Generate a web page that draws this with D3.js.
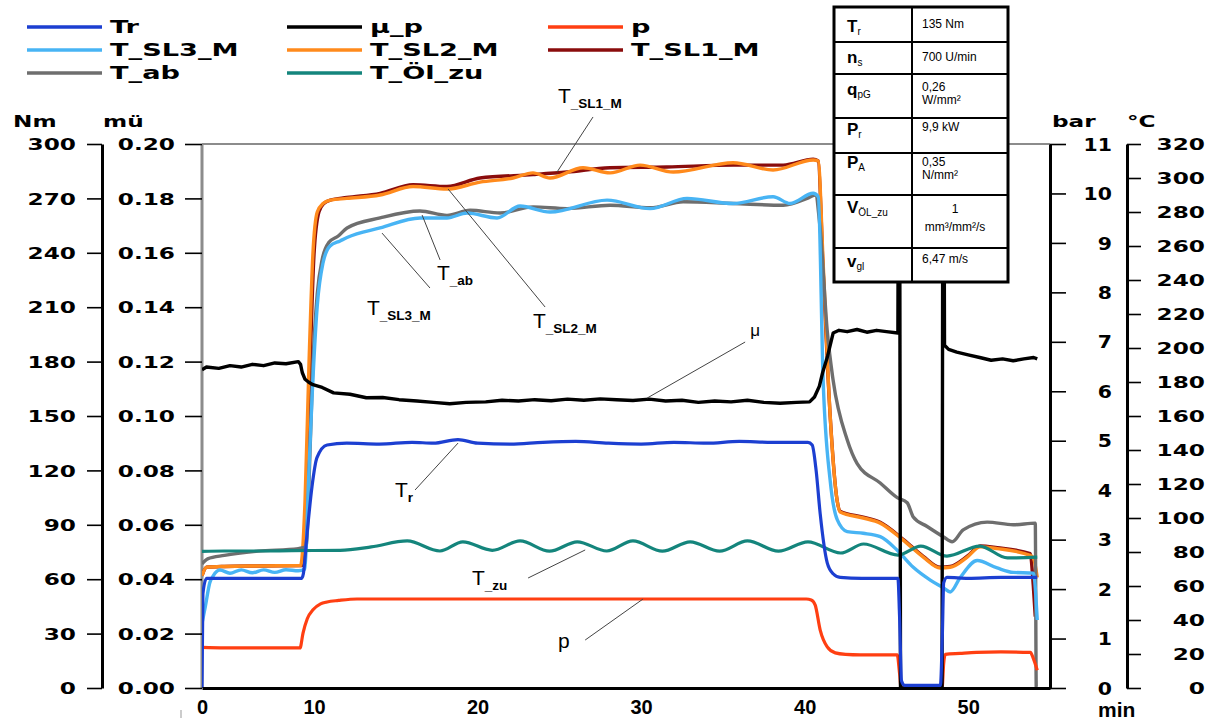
<!DOCTYPE html>
<html>
<head>
<meta charset="utf-8">
<script src="https://cdn.jsdelivr.net/npm/d3@7"></script>
<style>
  body { margin: 0; background: #fff; }
  svg { display: block; }
</style>
</head>
<body>
<svg id="chart" width="1218" height="725"></svg>
<script>
// ---- data (minutes, value) ----
var tickMinutes = [0, 10, 20, 30, 40, 50];
var nmTicks = d3.range(0, 301, 30);
var muTicks = d3.range(0, 0.2001, 0.02);
var barTicks = d3.range(0, 12, 1);
var degTicks = d3.range(0, 321, 20);

var trData = [[0,0],[0.08,52],[0.4,60.5],[3,60.5],[6,60.5],[8.9,60.5],[9.05,63],[9.38,85],[9.82,111],[10.18,127],
  [10.8,134],[12,135],[14,134.5],[16,135.5],[17.3,135],[18.8,137],[20,135],[22,134.5],[24,135.5],[26,136],
  [28,135],[30,134.5],[32,135.5],[34,135],[36,136],[38,135.5],[40.2,135.5],[40.46,134],[40.7,120],[40.95,96],
  [41.38,69],[41.74,63],[42.17,61],[43.5,60.5],[45.7,60.5],[45.8,40],[45.92,4],[46.1,1.5],[48.3,1.5],[48.42,30],
  [48.5,58],[48.7,61],[50,60.5],[52,61],[54.22,61]];

var muData = [[0,0.117],[0.4,0.118],[1.5,0.1175],[2.5,0.1185],[3.5,0.118],[4.5,0.119],[5.5,0.1185],[6.5,0.1195],
  [7.5,0.1192],[8.6,0.12],[8.8,0.119],[8.95,0.116],[9.2,0.1135],[9.5,0.1125],[9.9,0.1115],[10.5,0.1105],
  [11.2,0.1085],[12.2,0.108],[13.2,0.1067],[14.2,0.1068],[15.2,0.106],[16.3,0.1055],[17.3,0.105],[18.3,0.1045],
  [19.3,0.105],[20.5,0.1052],[21.5,0.1058],[22.5,0.1055],[23.5,0.106],[24.5,0.1056],[25.5,0.1062],[26.5,0.1058],
  [27.5,0.1063],[28.5,0.106],[29.5,0.1057],[30.5,0.1062],[31.5,0.1055],[32.5,0.1058],[33.5,0.105],[34.5,0.1055],
  [35.5,0.1052],[36.5,0.1058],[37.5,0.105],[38.5,0.1047],[39.5,0.105],[40.3,0.1052],[40.6,0.107],[40.9,0.111],
  [41.1,0.116],[41.4,0.122],[41.74,0.1305],[42.1,0.1315],[42.6,0.131],[43.2,0.1318],[43.8,0.1308],[44.4,0.1315],
  [45,0.131],[45.7,0.1305],[45.78,0.3],[45.86,0],[48.4,0],[48.47,0.3],[48.55,0.126],[48.8,0.1245],[49.3,0.1235],
  [50,0.1225],[50.7,0.1215],[51.4,0.1205],[52.1,0.121],[52.75,0.1203],[53.4,0.121],[54,0.1215],[54.22,0.121]];

var pData = [[0,0.82],[2,0.81],[5,0.81],[8.75,0.81],[9.02,1.11],[9.4,1.4],[9.91,1.58],[10.4,1.7],[10.8,1.74],
  [11.5,1.77],[12.63,1.8],[15,1.8],[20,1.8],[25,1.8],[30,1.8],[35,1.8],[40.1,1.8],[40.4,1.78],[40.64,1.68],
  [40.95,1.17],[41.38,0.83],[41.87,0.71],[42.5,0.68],[43.4,0.67],[45.66,0.67],[45.8,0.3],[45.9,0],[48.4,0],
  [48.5,0.5],[48.6,0.68],[49.5,0.7],[50.5,0.72],[52,0.73],[53.8,0.72],[53.98,0.6],[54.22,0.36]];

var oilData = [[0,80.4],[2,80.6],[5,80.6],[8,80.8],[11.6,81],[13.5,83],[15.7,86.5],[17.7,80.6],[19.1,86],
  [20.9,81],[22.6,86.5],[24.4,80.5],[26.1,86],[27.9,80.6],[29.5,86.5],[31.3,80.5],[33,86],[34.8,80.5],
  [36.5,86.5],[38.4,80.5],[40.2,86],[42.2,79.4],[43.6,84.7],[45.7,78.2],[47.1,83.5],[48.7,77.6],[50.7,83.5],
  [52.4,76.5],[54.22,77]];

var abData = [[0,73],[0.5,76],[2,78],[5,80.5],[8.6,82],[9.3,83],[9.6,130],[9.9,190],[10.2,232],[10.5,252],
  [10.9,262],[11.5,266],[12.02,270.6],[14.04,276.5],[16.48,280.6],[18.13,278],[19.54,281],[21.38,279.4],
  [23.39,283],[25.47,282],[28.1,284],[30.55,282.5],[32.57,286],[35.63,285],[38.69,284],[40.15,288],[40.64,290],
  [40.95,270],[41.38,210],[41.74,181],[42.6,146],[43.21,132],[44.62,120.6],[45.66,112],[46.27,109],[46.64,100.6],
  [47.49,95],[48.47,89],[49.02,86],[49.69,93],[51.16,97.6],[52.75,96],[54.1,97],[54.16,0],[54.22,0]];

var sl3Data = [[0,38],[0.3,48],[0.7,62],[1,66],[1.6,69.4],[2.5,67.5],[3.5,69.5],[4.5,67.8],[5.5,69.5],[6.5,68],
  [7.5,69.6],[8.6,69],[9.2,70],[9.5,120],[9.82,170],[10.2,225],[10.55,250],[10.98,260],[11.6,263],[12.02,265],
  [14.04,270.6],[16.48,276.5],[18.13,276.5],[19.36,279.4],[21.19,276.5],[22.6,283.5],[24.43,280],[27.92,287],
  [30.55,282],[32.81,288],[35.63,285],[38.07,289],[39.11,285],[40.52,291],[40.83,289],[41.13,181],[41.56,122],
  [41.99,99],[42.6,92],[43.58,91],[44.62,89],[45.66,81],[46.64,71],[47.68,63.5],[48.47,59],[48.9,56.5],
  [49.51,65],[50.55,75],[51.77,70.6],[52.75,68],[53.98,67.6],[54.22,40]];

var sl2Data = [[0,66],[0.4,71],[2,71.5],[5,71.8],[8.8,72],[9.2,110],[9.55,190],[9.9,255],[10.2,280],[10.55,285],
  [11,287],[12,288],[14.04,290],[16.06,295],[18.13,293.5],[20.15,297.6],[22.17,300],[23.39,303],[24.43,300],
  [26.45,306],[28.1,303],[29.94,307.6],[31.96,303.5],[35.63,309],[38.07,304.7],[40.52,310.6],[40.83,310],
  [41.13,250],[41.56,160],[41.99,110],[42.17,103.5],[43.58,100],[44.62,97],[46.02,87],[47.25,77],[48.29,70.6],
  [48.9,71],[49.94,77],[50.73,83],[51.77,82],[53.79,78],[54,76],[54.22,65]];

var sl1Data = [[0,66],[0.4,71],[2,71.5],[5,71.8],[8.9,72],[9.3,110],[9.65,190],[10,255],[10.3,280],[10.6,285],
  [11,287],[12,288.5],[14.04,291],[16.06,296],[18.13,295],[20.15,300],[23.39,302],[25.47,303.5],[28.1,306],
  [31.59,306.5],[35.63,307.6],[38.69,307.6],[40.52,311],[40.83,310],[41.13,245],[41.56,160],[41.99,110],
  [42.17,104],[43.58,100.5],[44.62,97.5],[46.02,87.5],[47.25,77.5],[48.29,71],[48.9,71.5],[49.94,77.5],
  [50.73,83.5],[51.77,82.5],[53.79,79],[53.98,60],[54.1,42]];

var legendNames = ["Tr", "μ_p", "p", "T_SL3_M", "T_SL2_M", "T_SL1_M", "T_ab", "T_Öl_zu"];

var paramSymbols = ["T", "n", "q", "P", "P", "V", "v"];
var paramSubs = ["r", "s", "pG", "r", "A", "ÖL_zu", "gl"];
var paramValues = [["135 Nm"], ["700 U/min"], ["0,26", "W/mm²"], ["9,9 kW"], ["0,35", "N/mm²"], ["1", "mm³/mm²/s"], ["6,47 m/s"]];

// ---- scales ----
var svg = d3.select("#chart");
var x = d3.scaleLinear().domain([0, 10, 55]).range([202, 314, 1050]);
var yNm = d3.scaleLinear().domain([0, 300]).range([688, 144]);
var yMu = d3.scaleLinear().domain([0, 0.2]).range([688, 144]);
var yBar = d3.scaleLinear().domain([0, 11]).range([688, 144]);
var yDeg = d3.scaleLinear().domain([0, 320]).range([688, 144]);

var series = {
  "Tr":      { color: "#1c3fd1", data: trData,  y: yNm,  w: 3.2, curve: d3.curveMonotoneX },
  "μ_p":     { color: "#000000", data: muData,  y: yMu,  w: 3.4, curve: d3.curveLinear },
  "p":       { color: "#ff3f12", data: pData,   y: yBar, w: 3.2, curve: d3.curveMonotoneX },
  "T_SL3_M": { color: "#48b4f4", data: sl3Data, y: yDeg, w: 3.4, curve: d3.curveMonotoneX },
  "T_SL2_M": { color: "#ff8a1c", data: sl2Data, y: yDeg, w: 3.4, curve: d3.curveMonotoneX },
  "T_SL1_M": { color: "#8a0c0c", data: sl1Data, y: yDeg, w: 3.4, curve: d3.curveMonotoneX },
  "T_ab":    { color: "#6e6e6e", data: abData,  y: yDeg, w: 3.4, curve: d3.curveMonotoneX },
  "T_Öl_zu": { color: "#14857c", data: oilData, y: yDeg, w: 3.2, curve: d3.curveMonotoneX }
};
var drawOrder = ["T_SL1_M", "T_SL2_M", "T_ab", "T_SL3_M", "T_Öl_zu", "p", "μ_p", "Tr"];

svg.append("rect").attr("width", 1218).attr("height", 725).attr("fill", "#fff");

// wide bold lettering like the original
function wide(sel, sx, anchor) {
  return sel.attr("font-family", "DejaVu Sans").attr("font-weight", "bold")
    .attr("text-anchor", anchor || "start")
    .attr("fill", "#000");
}

// ---- frame ----
svg.append("line").attr("x1", x(0)).attr("x2", x(0)).attr("y1", yNm(300)).attr("y2", yNm(0))
  .attr("stroke", "#8c8c8c").attr("stroke-width", 3);
svg.append("line").attr("x1", x(0)).attr("x2", x(55)).attr("y1", yNm(300)).attr("y2", yNm(300))
  .attr("stroke", "#8c8c8c").attr("stroke-width", 2.2);

// ---- series ----
svg.append("clipPath").attr("id", "plotclip").append("rect")
  .attr("x", x(0)).attr("y", yNm(300) - 4).attr("width", x(55) - x(0)).attr("height", yNm(0) - yNm(300) + 8);
var plot = svg.append("g").attr("clip-path", "url(#plotclip)");

drawOrder.forEach(function(name) {
  var s = series[name];
  var line = d3.line().x(function(d) { return x(d[0]); }).y(function(d) { return s.y(d[1]); }).curve(s.curve);
  plot.append("path").datum(s.data)
    .attr("d", line)
    .attr("fill", "none")
    .attr("stroke", s.color)
    .attr("stroke-width", s.w)
    .attr("stroke-linejoin", "round");
});

// ---- axes ----
function styleAxis(g, sx, offset, anchor, size) {
  g.selectAll(".tick line").attr("stroke", "#000").attr("stroke-width", 1.6);
  g.selectAll(".tick text").each(function() {
    var t = d3.select(this);
    t.attr("x", null).attr("dy", "0.36em")
      .attr("transform", "translate(" + offset + ",0) scale(" + sx + ",1)");
    wide(t, sx, anchor).attr("font-size", size);
  });
  g.attr("font-size", null).attr("font-family", null);
}

var gNm = svg.append("g").attr("transform", "translate(102,0)")
  .call(d3.axisLeft(yNm).tickValues(nmTicks).tickSize(15).tickSizeOuter(0));
gNm.select(".domain").attr("stroke", "#000").attr("stroke-width", 3);
styleAxis(gNm, 1.45, -26, "end", 16);

var gMu = svg.append("g").attr("transform", "translate(" + x(0) + ",0)")
  .call(d3.axisLeft(yMu).tickValues(muTicks).tickSize(17).tickSizeOuter(0).tickFormat(d3.format(".2f")));
gMu.select(".domain").remove();
styleAxis(gMu, 1.45, -27, "end", 16);

var gBar = svg.append("g").attr("transform", "translate(" + x(55) + ",0)")
  .call(d3.axisRight(yBar).tickValues(barTicks).tickSize(16).tickSizeOuter(0));
gBar.select(".domain").attr("stroke", "#000").attr("stroke-width", 3);
styleAxis(gBar, 1.2, 62, "end", 17);

var gDeg = svg.append("g").attr("transform", "translate(1127,0)")
  .call(d3.axisRight(yDeg).tickValues(degTicks).tickSize(14).tickSizeOuter(0));
gDeg.select(".domain").attr("stroke", "#000").attr("stroke-width", 3);
styleAxis(gDeg, 1.45, 78, "end", 16);

var gX = svg.append("g").attr("transform", "translate(0," + yNm(0) + ")")
  .call(d3.axisBottom(x).tickValues(tickMinutes).tickSize(0).tickPadding(12).tickFormat(d3.format("d")));
gX.select(".domain").attr("stroke", "#000").attr("stroke-width", 3);
gX.selectAll(".tick text").attr("font-family", "Liberation Sans").attr("font-weight", "bold")
  .attr("font-size", 20).attr("fill", "#000");
gX.attr("font-size", null).attr("font-family", null);
svg.append("line").attr("x1", 181).attr("x2", 181).attr("y1", 710).attr("y2", 718)
  .attr("stroke", "#999").attr("stroke-width", 1);

svg.append("text").attr("x", 1098).attr("y", 717).text("min")
  .attr("font-family", "Liberation Sans").attr("font-weight", "bold").attr("font-size", 21);

// unit captions
[["Nm", 13], ["mü", 103], ["bar", 1052], ["°C", 1127]].forEach(function(u) {
  var t = svg.append("text").attr("transform", "translate(" + u[1] + ",127) scale(1.45,1)").text(u[0]);
  wide(t, 1.45, "start").attr("font-size", 16);
});

// ---- legend ----
var legendCols = [27, 287, 548], legendRows = [27, 50, 73];
legendNames.forEach(function(name, i) {
  var cx = legendCols[i % 3], cy = legendRows[Math.floor(i / 3)];
  svg.append("line").attr("x1", cx).attr("x2", cx + 75).attr("y1", cy).attr("y2", cy)
    .attr("stroke", series[name].color).attr("stroke-width", 3.5);
  var t = svg.append("text").attr("transform", "translate(" + (cx + 83) + "," + (cy + 6) + ") scale(1.6,1)").text(name);
  wide(t, 1.6, "start").attr("font-size", 17);
});

// ---- annotations with leader lines ----
var annotations = [
  { y: yDeg, from: [27.06, 335.9], to: [24.86, 303.5], at: [24.92, 344.1], main: "T", sub: "_SL1_M" },
  { y: yDeg, from: [17.71, 251.8], to: [16.61, 278.2], at: [17.52, 240.0], main: "T", sub: "_ab" },
  { y: yDeg, from: [17.09, 235.3], to: [14.16, 267.6], at: [13.24, 219.4], main: "T", sub: "_SL3_M" },
  { y: yDeg, from: [24.13, 224.1], to: [18.2, 293.5], at: [23.39, 211.8], main: "T", sub: "_SL2_M" },
  { y: yMu, from: [36.36, 0.1272], to: [30.37, 0.1066], at: [36.67, 0.1295], main: "μ", sub: "" },
  { y: yNm, from: [16.18, 109.2], to: [18.81, 135.1], at: [14.95, 105.3], main: "T", sub: "r" },
  { y: yDeg, from: [23.09, 64.7], to: [26.58, 81.2], at: [19.66, 60.6], main: "T", sub: "_zu" },
  { y: yBar, from: [26.58, 0.97], to: [30.12, 1.8], at: [24.92, 0.81], main: "p", sub: "" }
];
annotations.forEach(function(a) {
  svg.append("line")
    .attr("x1", x(a.from[0])).attr("y1", a.y(a.from[1]))
    .attr("x2", x(a.to[0])).attr("y2", a.y(a.to[1]))
    .attr("stroke", "#444").attr("stroke-width", 1);
  var t = svg.append("text").attr("x", x(a.at[0])).attr("y", a.y(a.at[1]))
    .attr("font-family", "Liberation Sans").attr("fill", "#000");
  t.append("tspan").attr("font-size", a.main === "μ" ? 17 : 21).text(a.main);
  if (a.sub) {
    t.append("tspan").attr("font-size", 13.5).attr("font-weight", "bold").attr("dy", 5).text(a.sub);
  }
});

// ---- parameter table ----
var tblLeft = 834, tblMid = 912, tblRight = 1008;
var rowEdges = [7, 42, 74, 118, 153, 195, 248, 282];
var symBase = [32, 63, 95, 135, 168, 213, 267];
var valBase = [28, 61, 91, 131, 166, 213, 263];
var tbl = svg.append("g");
tbl.append("rect").attr("x", tblLeft).attr("y", rowEdges[0])
  .attr("width", tblRight - tblLeft).attr("height", rowEdges[7] - rowEdges[0])
  .attr("fill", "#fff").attr("stroke", "#000").attr("stroke-width", 3);
tbl.append("line").attr("x1", tblMid).attr("x2", tblMid).attr("y1", rowEdges[0]).attr("y2", rowEdges[7])
  .attr("stroke", "#000").attr("stroke-width", 2);
rowEdges.slice(1, 7).forEach(function(ry) {
  tbl.append("line").attr("x1", tblLeft).attr("x2", tblRight).attr("y1", ry).attr("y2", ry)
    .attr("stroke", "#000").attr("stroke-width", 2);
});
paramSymbols.forEach(function(sym, i) {
  var t = tbl.append("text").attr("x", 847).attr("y", symBase[i])
    .attr("font-family", "Liberation Sans").attr("fill", "#000");
  t.append("tspan").attr("font-size", 17).attr("font-weight", "bold").text(sym);
  t.append("tspan").attr("font-size", 10).attr("dy", 3).text(paramSubs[i]);
  paramValues[i].forEach(function(v, k) {
    var centred = paramValues[i][0] === "1";
    tbl.append("text")
      .attr("x", centred ? 955 : 922)
      .attr("y", valBase[i] + k * (centred ? 18 : 13))
      .attr("text-anchor", centred ? "middle" : "start")
      .attr("font-family", "Liberation Sans").attr("font-size", 12).attr("fill", "#000")
      .text(v);
  });
});
</script>
</body>
</html>
